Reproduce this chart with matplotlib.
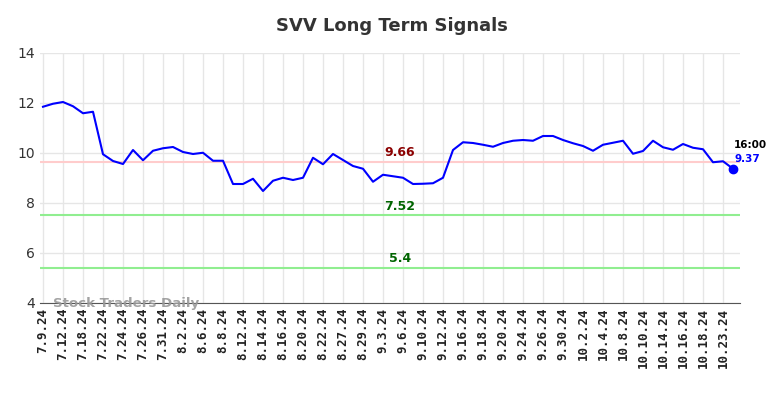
import matplotlib
matplotlib.use("Agg")
import matplotlib.pyplot as plt

# Дані
dates = ["7.9.24", "7.12.24", "7.18.24", "7.22.24", "7.24.24", "7.26.24", "7.31.24",
         "8.2.24", "8.6.24", "8.8.24", "8.12.24", "8.14.24", "8.16.24", "8.20.24",
         "8.22.24", "8.27.24", "8.29.24", "9.3.24", "9.6.24", "9.10.24", "9.12.24",
         "9.16.24", "9.18.24", "9.20.24", "9.24.24", "9.26.24", "9.30.24", "10.2.24",
         "10.4.24", "10.8.24", "10.10.24", "10.14.24", "10.16.24", "10.18.24", "10.23.24"]
prices = [11.85, 11.97, 12.04, 11.87, 11.59, 11.65, 9.95, 9.68, 9.56, 10.12,
          9.71, 10.09, 10.19, 10.24, 10.04, 9.96, 10.01, 9.69, 9.69, 8.76,
          8.76, 8.97, 8.48, 8.89, 9.01, 8.92, 9.01, 9.81, 9.55, 9.96,
          9.72, 9.48, 9.37, 8.85, 9.13, 9.07, 9.01, 8.76, 8.77, 8.79,
          9.01, 10.12, 10.43, 10.40, 10.33, 10.25, 10.40, 10.49, 10.52, 10.49,
          10.68, 10.68, 10.52, 10.39, 10.28, 10.09, 10.33, 10.41, 10.49, 9.97,
          10.08, 10.49, 10.23, 10.13, 10.36, 10.21, 10.15, 9.63, 9.67, 9.37]
levels = [9.66, 7.52, 5.4]
level_line_colors = ["#ffcccc", "#90ee90", "#90ee90"]
level_text_colors = ["#8b0000", "#006400", "#006400"]
last_time = "16:00"

fig = plt.figure(figsize=(7.84, 3.98), dpi=100)
ax = fig.add_axes([40 / 784, 1 - 303 / 398, 700 / 784, 250 / 398])

x = list(range(len(prices)))
ax.plot(x, prices, color="blue", linewidth=1.5, zorder=3)
ax.plot(x[-1], prices[-1], "o", color="blue", markersize=6, zorder=4)

# Рівні підтримки/опору
for lvl, lc, tc in zip(levels, level_line_colors, level_text_colors):
    ax.axhline(lvl, color=lc, linewidth=1.5, zorder=2)
    ax.text(35.7, lvl + 0.1, str(lvl), color=tc, fontsize=9, fontweight="bold",
            ha="center", va="bottom")

ax.text(x[-1] + 0.1, prices[-1] + 0.75, last_time, color="black", fontsize=7.5,
        fontweight="bold", ha="left", va="bottom")
ax.text(x[-1] + 0.1, prices[-1] + 0.2, f"{prices[-1]:.2f}", color="blue", fontsize=7.5,
        fontweight="bold", ha="left", va="bottom")

ax.text(1.0, 4.0, "Stock Traders Daily", color="#999999", fontsize=9.6,
        fontweight="bold", ha="left", va="center", alpha=0.9)

ax.set_xlim(-0.3, 69.7)
ax.set_ylim(4, 14)
ax.set_yticks([4, 6, 8, 10, 12, 14])
ax.set_xticks(x[::2])
ax.set_xticklabels(dates, rotation=90, fontsize=9, fontweight="bold",
                   family="DejaVu Sans Mono")
ax.tick_params(axis="y", labelsize=10, colors="#333333", length=0)
ax.tick_params(axis="x", length=0, colors="#222222")
ax.grid(True, color="#e6e6e6", linewidth=1)
ax.set_axisbelow(True)
for side in ["left", "right", "top"]:
    ax.spines[side].set_visible(False)
ax.spines["bottom"].set_color("#555555")

fig.suptitle("SVV Long Term Signals", fontsize=13, fontweight="bold", color="#333333",
             y=1 - 26 / 398, va="center")

fig.savefig("out.png", dpi=100)
